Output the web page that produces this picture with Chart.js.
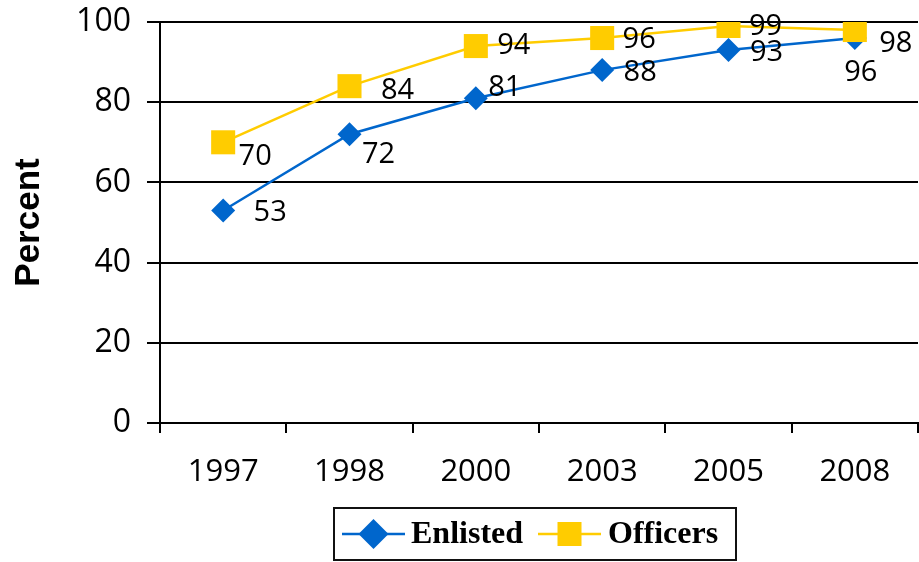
<!DOCTYPE html>
<html>
<head>
<meta charset="utf-8">
<script src="https://cdn.jsdelivr.net/npm/chart.js@4"></script>
<style>
html,body{margin:0;padding:0;background:#fff;}
#wrap{width:919px;height:562px;position:relative;}
</style>
</head>
<body>
<div id="wrap"><canvas id="c" width="919" height="562"></canvas></div>
<script>
// ---- data ----
const categories = ['1997', '1998', '2000', '2003', '2005', '2008'];
const enlisted = [53, 72, 81, 88, 93, 96];
const officers = [70, 84, 94, 96, 99, 98];
const yMin = 0, yMax = 100, yStep = 20;
const seriesNames = ['Enlisted', 'Officers'];

// ---- style ----
const BLUE = '#0066CC', YELLOW = '#FFCC00';
const TICK_FONT = '"Open Sans", "Noto Sans", sans-serif';
// label offsets (px) from each point, per series
const enlistedLabelOffsets = [[47, 2], [29, 20], [29, -10], [38, 3], [38, 3], [6, 35]];
const officersLabelOffsets = [[32, 14], [48, 5], [38, 0], [37, 2], [37, 1], [41, 14]];

const dataLabels = {
  id: 'dataLabels',
  afterDatasetsDraw(chart) {
    const ctx = chart.ctx;
    ctx.save();
    ctx.font = '29px ' + TICK_FONT;
    ctx.fillStyle = '#000';
    ctx.textAlign = 'center';
    ctx.textBaseline = 'middle';
    chart.data.datasets.forEach((ds, di) => {
      const meta = chart.getDatasetMeta(di);
      const offs = ds.labelOffsets;
      meta.data.forEach((pt, i) => {
        ctx.fillText(String(ds.data[i]), pt.x + offs[i][0], pt.y + offs[i][1]);
      });
    });
    ctx.restore();
  }
};

const boxLegend = {
  id: 'boxLegend',
  afterDraw(chart) {
    const ctx = chart.ctx;
    ctx.save();
    const bx = 334, by = 508, bw = 402, bh = 52;
    ctx.fillStyle = '#fff';
    ctx.fillRect(bx, by, bw, bh);
    ctx.strokeStyle = '#111';
    ctx.lineWidth = 2;
    ctx.strokeRect(bx, by, bw, bh);
    const cy = by + 26;
    const items = [
      {ds: chart.data.datasets[1], x0: 342, x1: 405, tx: 411},
      {ds: chart.data.datasets[0], x0: 538, x1: 601, tx: 608}
    ];
    items.forEach(it => {
      ctx.strokeStyle = it.ds.borderColor;
      ctx.lineWidth = 2.5;
      ctx.beginPath();
      ctx.moveTo(it.x0, cy);
      ctx.lineTo(it.x1, cy);
      ctx.stroke();
      const mx = (it.x0 + it.x1) / 2;
      ctx.fillStyle = it.ds.backgroundColor;
      if (it.ds.pointStyle === 'rectRot') {
        ctx.beginPath();
        ctx.moveTo(mx, cy - 15);
        ctx.lineTo(mx + 15, cy);
        ctx.lineTo(mx, cy + 15);
        ctx.lineTo(mx - 15, cy);
        ctx.closePath();
        ctx.fill();
      } else {
        ctx.fillRect(mx - 12, cy - 12, 24, 24);
      }
      ctx.fillStyle = '#000';
      ctx.font = 'bold 32px "Liberation Serif", "Times New Roman", serif';
      ctx.textAlign = 'left';
      ctx.textBaseline = 'middle';
      ctx.fillText(it.ds.label, it.tx, cy + 1);
    });
    ctx.restore();
  }
};

function zeroPad(s) { s.paddingTop = 0; s.paddingBottom = 0; s.paddingLeft = 0; s.paddingRight = 0; }

new Chart(document.getElementById('c'), {
  type: 'line',
  data: {
    labels: categories,
    datasets: [
      {
        label: seriesNames[1], data: officers, order: 0,
        borderColor: YELLOW, backgroundColor: YELLOW, borderWidth: 2.5,
        pointStyle: 'rect', pointRadius: 17, pointBorderWidth: 0,
        pointBackgroundColor: YELLOW, pointBorderColor: YELLOW,
        tension: 0, labelOffsets: officersLabelOffsets
      },
      {
        label: seriesNames[0], data: enlisted, order: 1,
        borderColor: BLUE, backgroundColor: BLUE, borderWidth: 2.5,
        pointStyle: 'rectRot', pointRadius: 12, pointBorderWidth: 0,
        pointBackgroundColor: BLUE, pointBorderColor: BLUE,
        tension: 0, labelOffsets: enlistedLabelOffsets
      }
    ]
  },
  options: {
    responsive: false,
    animation: false,
    events: [],
    layout: { autoPadding: false, padding: { top: 22, right: 1, bottom: 0, left: 0 } },
    plugins: { legend: { display: false }, tooltip: { enabled: false } },
    scales: {
      x: {
        type: 'category',
        offset: true,
        grid: {
          offset: true, drawOnChartArea: true, drawTicks: true, tickLength: 10,
          lineWidth: 2, tickColor: '#000',
          color: (c) => c.index === categories.length ? '#333' : 'rgba(0,0,0,0)'
        },
        border: { display: true, color: '#000', width: 2 },
        ticks: { color: '#000', font: { family: TICK_FONT, size: 31 }, padding: 21, maxRotation: 0, autoSkip: false },
        afterFit(s) { s.height = 139; zeroPad(s); }
      },
      y: {
        min: yMin, max: yMax,
        grid: { color: '#000', lineWidth: 2, tickLength: 13, tickColor: '#000' },
        border: { display: true, color: '#000', width: 2 },
        ticks: { stepSize: yStep, color: '#000', font: { family: TICK_FONT, size: 32 }, padding: 16 },
        title: { display: true, text: 'Percent', color: '#000', font: { family: '"Liberation Sans", Arial, sans-serif', size: 35, weight: 'bold' }, padding: { top: 8, bottom: 0 } },
        afterFit(s) { s.width = 160; zeroPad(s); }
      }
    }
  },
  plugins: [dataLabels, boxLegend]
});
</script>
</body>
</html>
